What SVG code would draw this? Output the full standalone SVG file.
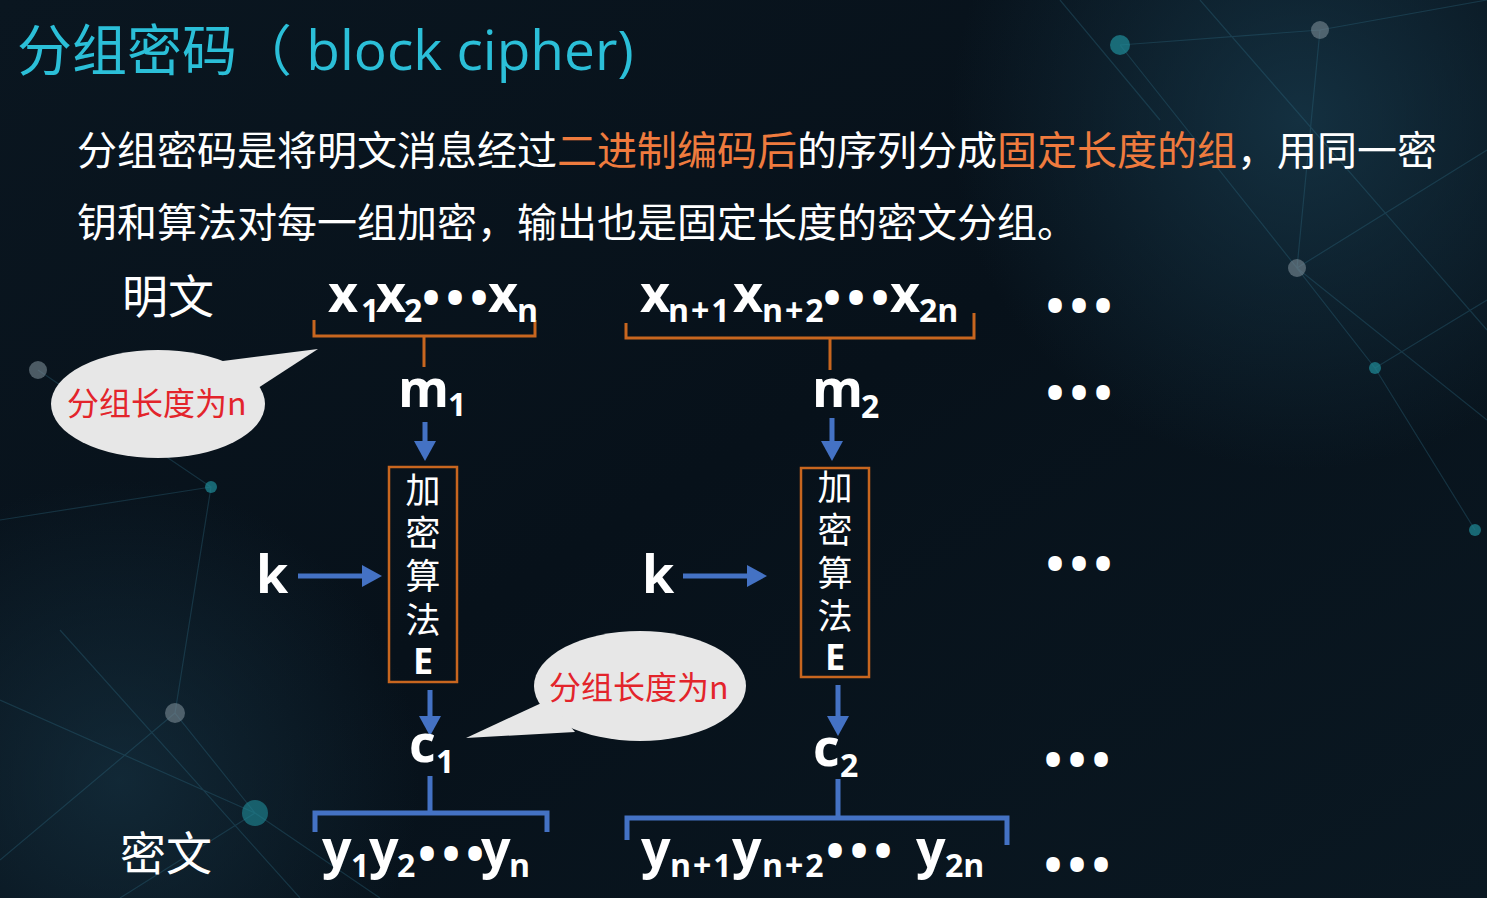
<svg xmlns="http://www.w3.org/2000/svg" width="1487" height="898" viewBox="0 0 1487 898">
<defs>
<linearGradient id="bg" x1="0" y1="0" x2="1" y2="1">
<stop offset="0" stop-color="#0a1620"/>
<stop offset="0.5" stop-color="#07111a"/>
<stop offset="1" stop-color="#0a1822"/>
</linearGradient>
<radialGradient id="glowTR" cx="1300" cy="120" r="350" gradientUnits="userSpaceOnUse">
<stop offset="0" stop-color="#17384a" stop-opacity="0.8"/>
<stop offset="1" stop-color="#17384a" stop-opacity="0"/>
</radialGradient>
<radialGradient id="glowBL" cx="120" cy="780" r="300" gradientUnits="userSpaceOnUse">
<stop offset="0" stop-color="#163242" stop-opacity="0.7"/>
<stop offset="1" stop-color="#163242" stop-opacity="0"/>
</radialGradient>
<marker id="ah" markerUnits="userSpaceOnUse" markerWidth="22" markerHeight="22" viewBox="0 0 20 22" refX="0" refY="11" orient="auto">
<path d="M0,0 L20,11 L0,22 z" fill="#4472c4"/>
</marker>
<style>
.title{font-family:"Open Sans","Noto Sans CJK SC",sans-serif;font-size:55px;fill:#2bbfd8;}
.para{font-family:"Noto Sans CJK SC",sans-serif;font-size:40px;fill:#ffffff;}
.hl{fill:#ef7b3e;}
.lbl{font-family:"Noto Sans CJK SC",sans-serif;font-size:46px;fill:#ffffff;}
.m{font-family:"Open Sans","Noto Sans",sans-serif;font-weight:700;font-size:52px;fill:#ffffff;}
.s{font-size:32px;}
.s3{font-size:32px;letter-spacing:2px;}
.dots{font-size:48px;letter-spacing:6px;}
.box{fill:none;stroke:#c8661f;stroke-width:2.5;}
.bt{font-family:"Noto Sans CJK SC",sans-serif;font-size:35px;fill:#ffffff;text-anchor:middle;}
.be{font-family:"Open Sans",sans-serif;font-weight:700;font-size:36px;fill:#ffffff;text-anchor:middle;}
.ob{fill:none;stroke:#c8661f;stroke-width:3;}
.bb{fill:none;stroke:#4472c4;stroke-width:5;}
.ar{fill:none;stroke:#4472c4;stroke-width:5;marker-end:url(#ah);}
.bub{fill:#e7e7e7;}
.bubt{font-family:"Noto Sans CJK SC",sans-serif;font-size:32px;fill:#e3242b;}
.deco{stroke:#2f6a80;stroke-width:1.2;opacity:0.35;fill:none;}
</style>
</defs>

<g id="background">
<rect width="1487" height="898" fill="url(#bg)"/>
<rect width="1487" height="898" fill="url(#glowTR)"/>
<rect width="1487" height="898" fill="url(#glowBL)"/>
<path class="deco" d="M1120,45 L1320,30 L1487,0 M1120,45 L1297,268 L1487,150 M1320,30 L1297,268 L1375,368 L1487,300 M1297,268 L1487,420 M1375,368 L1475,530 M1200,0 L1487,330 M1060,0 L1160,120"/>
<path class="deco" d="M38,370 L211,487 L175,713 L255,813 L0,700 M175,713 L0,860 M255,813 L120,898 M255,813 L380,898 M211,487 L0,520 M60,630 L300,898"/>
<circle cx="1120" cy="45" r="10" fill="#1f8c99" opacity="0.7"/>
<circle cx="1320" cy="30" r="9" fill="#7a8a94" opacity="0.6"/>
<circle cx="1297" cy="268" r="9" fill="#7a8a94" opacity="0.6"/>
<circle cx="1375" cy="368" r="6" fill="#1f8c99" opacity="0.7"/>
<circle cx="1475" cy="530" r="6" fill="#1f8c99" opacity="0.7"/>
<circle cx="38" cy="370" r="9" fill="#7a8a94" opacity="0.6"/>
<circle cx="211" cy="487" r="6" fill="#1f8c99" opacity="0.7"/>
<circle cx="175" cy="713" r="10" fill="#7a8a94" opacity="0.6"/>
<circle cx="255" cy="813" r="13" fill="#1f8c99" opacity="0.6"/>
</g>

<g id="title">
<text class="title" x="17" y="70">分组密码（ block cipher)</text>
</g>

<g id="paragraph">
<text class="para" x="77" y="165">分组密码是将明文消息经过<tspan class="hl">二进制编码后</tspan>的序列分成<tspan class="hl">固定长度的组</tspan>，用同一密</text>
<text class="para" x="77" y="237">钥和算法对每一组加密，输出也是固定长度的密文分组。</text>
</g>

<g id="label-plaintext"><text class="lbl" x="122" y="313">明文</text></g>
<g id="label-ciphertext"><text class="lbl" x="120" y="870">密文</text></g>

<g id="connectors">
<path class="ob" d="M314,320 L314,336 L535,336 L535,320 M424,336 L424,367"/>
<path class="ob" d="M626,323 L626,338 L974,338 L974,313 M830,338 L830,370"/>
<path class="ar" d="M425,422 L425,441"/>
<path class="ar" d="M832,418 L832,441"/>
<path class="ar" d="M298,576 L362,576"/>
<path class="ar" d="M683,576 L747,576"/>
<path class="ar" d="M430,690 L430,716"/>
<path class="ar" d="M838,685 L838,716"/>
<path class="bb" d="M315,832 L315,813 L547,813 L547,832 M430,776 L430,813"/>
<path class="bb" d="M627,840 L627,818 L1007,818 L1007,845 M838,779 L838,818"/>
</g>

<g id="plain-block-1">
<text class="m" y="312"><tspan x="328">x</tspan><tspan class="s" x="361" y="322">1</tspan><tspan x="376" y="312">x</tspan><tspan class="s" x="404" y="322">2</tspan><tspan class="dots" x="422" y="315">•••</tspan><tspan x="488" y="312">x</tspan><tspan class="s" x="517" y="322">n</tspan></text>
</g>
<g id="plain-block-2">
<text class="m" y="312"><tspan x="640">x</tspan><tspan class="s3" x="668" y="322">n+1</tspan><tspan x="733" y="312">x</tspan><tspan class="s3" x="762" y="322">n+2</tspan><tspan class="dots" x="823" y="315">•••</tspan><tspan x="890" y="312">x</tspan><tspan class="s" x="919" y="322">2n</tspan></text>
</g>

<g id="m1"><text class="m" y="407"><tspan x="398">m</tspan><tspan class="s" x="448" y="416">1</tspan></text></g>
<g id="m2"><text class="m" y="407"><tspan x="812">m</tspan><tspan class="s" x="861" y="418">2</tspan></text></g>

<g id="k1"><text class="m" x="256" y="593">k</text></g>
<g id="k2"><text class="m" x="642" y="593">k</text></g>

<g id="encrypt-1">
<rect class="box" x="389" y="467" width="68" height="215"/>
<text class="bt" x="423" y="503">加</text>
<text class="bt" x="423" y="546">密</text>
<text class="bt" x="423" y="589">算</text>
<text class="bt" x="423" y="633">法</text>
<text class="be" x="423" y="674">E</text>
</g>
<g id="encrypt-2">
<rect class="box" x="801" y="468" width="68" height="209"/>
<text class="bt" x="835" y="500">加</text>
<text class="bt" x="835" y="543">密</text>
<text class="bt" x="835" y="586">算</text>
<text class="bt" x="835" y="629">法</text>
<text class="be" x="835" y="670">E</text>
</g>

<g id="c1"><text class="m" y="762"><tspan x="409">c</tspan><tspan class="s" x="436" y="773">1</tspan></text></g>
<g id="c2"><text class="m" y="766"><tspan x="813">c</tspan><tspan class="s" x="840" y="777">2</tspan></text></g>

<g id="cipher-block-1">
<text class="m" y="867"><tspan x="322">y</tspan><tspan class="s" x="351" y="877">1</tspan><tspan x="369" y="867">y</tspan><tspan class="s" x="397" y="877">2</tspan><tspan class="dots" x="418" y="871">•••</tspan><tspan x="481" y="867">y</tspan><tspan class="s" x="509" y="877">n</tspan></text>
</g>
<g id="cipher-block-2">
<text class="m" y="867"><tspan x="641">y</tspan><tspan class="s3" x="670" y="877">n+1</tspan><tspan x="732" y="867">y</tspan><tspan class="s3" x="762" y="877">n+2</tspan><tspan class="dots" x="826" y="868">•••</tspan><tspan x="916" y="867">y</tspan><tspan class="s" x="945" y="877">2n</tspan></text>
</g>

<g id="ellipsis">
<text class="m dots" x="1046" y="323">•••</text>
<text class="m dots" x="1046" y="410">•••</text>
<text class="m dots" x="1046" y="581">•••</text>
<text class="m dots" x="1044" y="777">•••</text>
<text class="m dots" x="1044" y="882">•••</text>
</g>

<g id="callout-1">
<ellipse class="bub" cx="158" cy="404" rx="107" ry="54"/>
<polygon class="bub" points="318,349 215,362 258,388"/>
<text class="bubt" x="67" y="415">分组长度为n</text>
</g>
<g id="callout-2">
<ellipse class="bub" cx="640" cy="686" rx="106" ry="55"/>
<polygon class="bub" points="466,738 548,700 575,732"/>
<text class="bubt" x="549" y="699">分组长度为n</text>
</g>
</svg>
